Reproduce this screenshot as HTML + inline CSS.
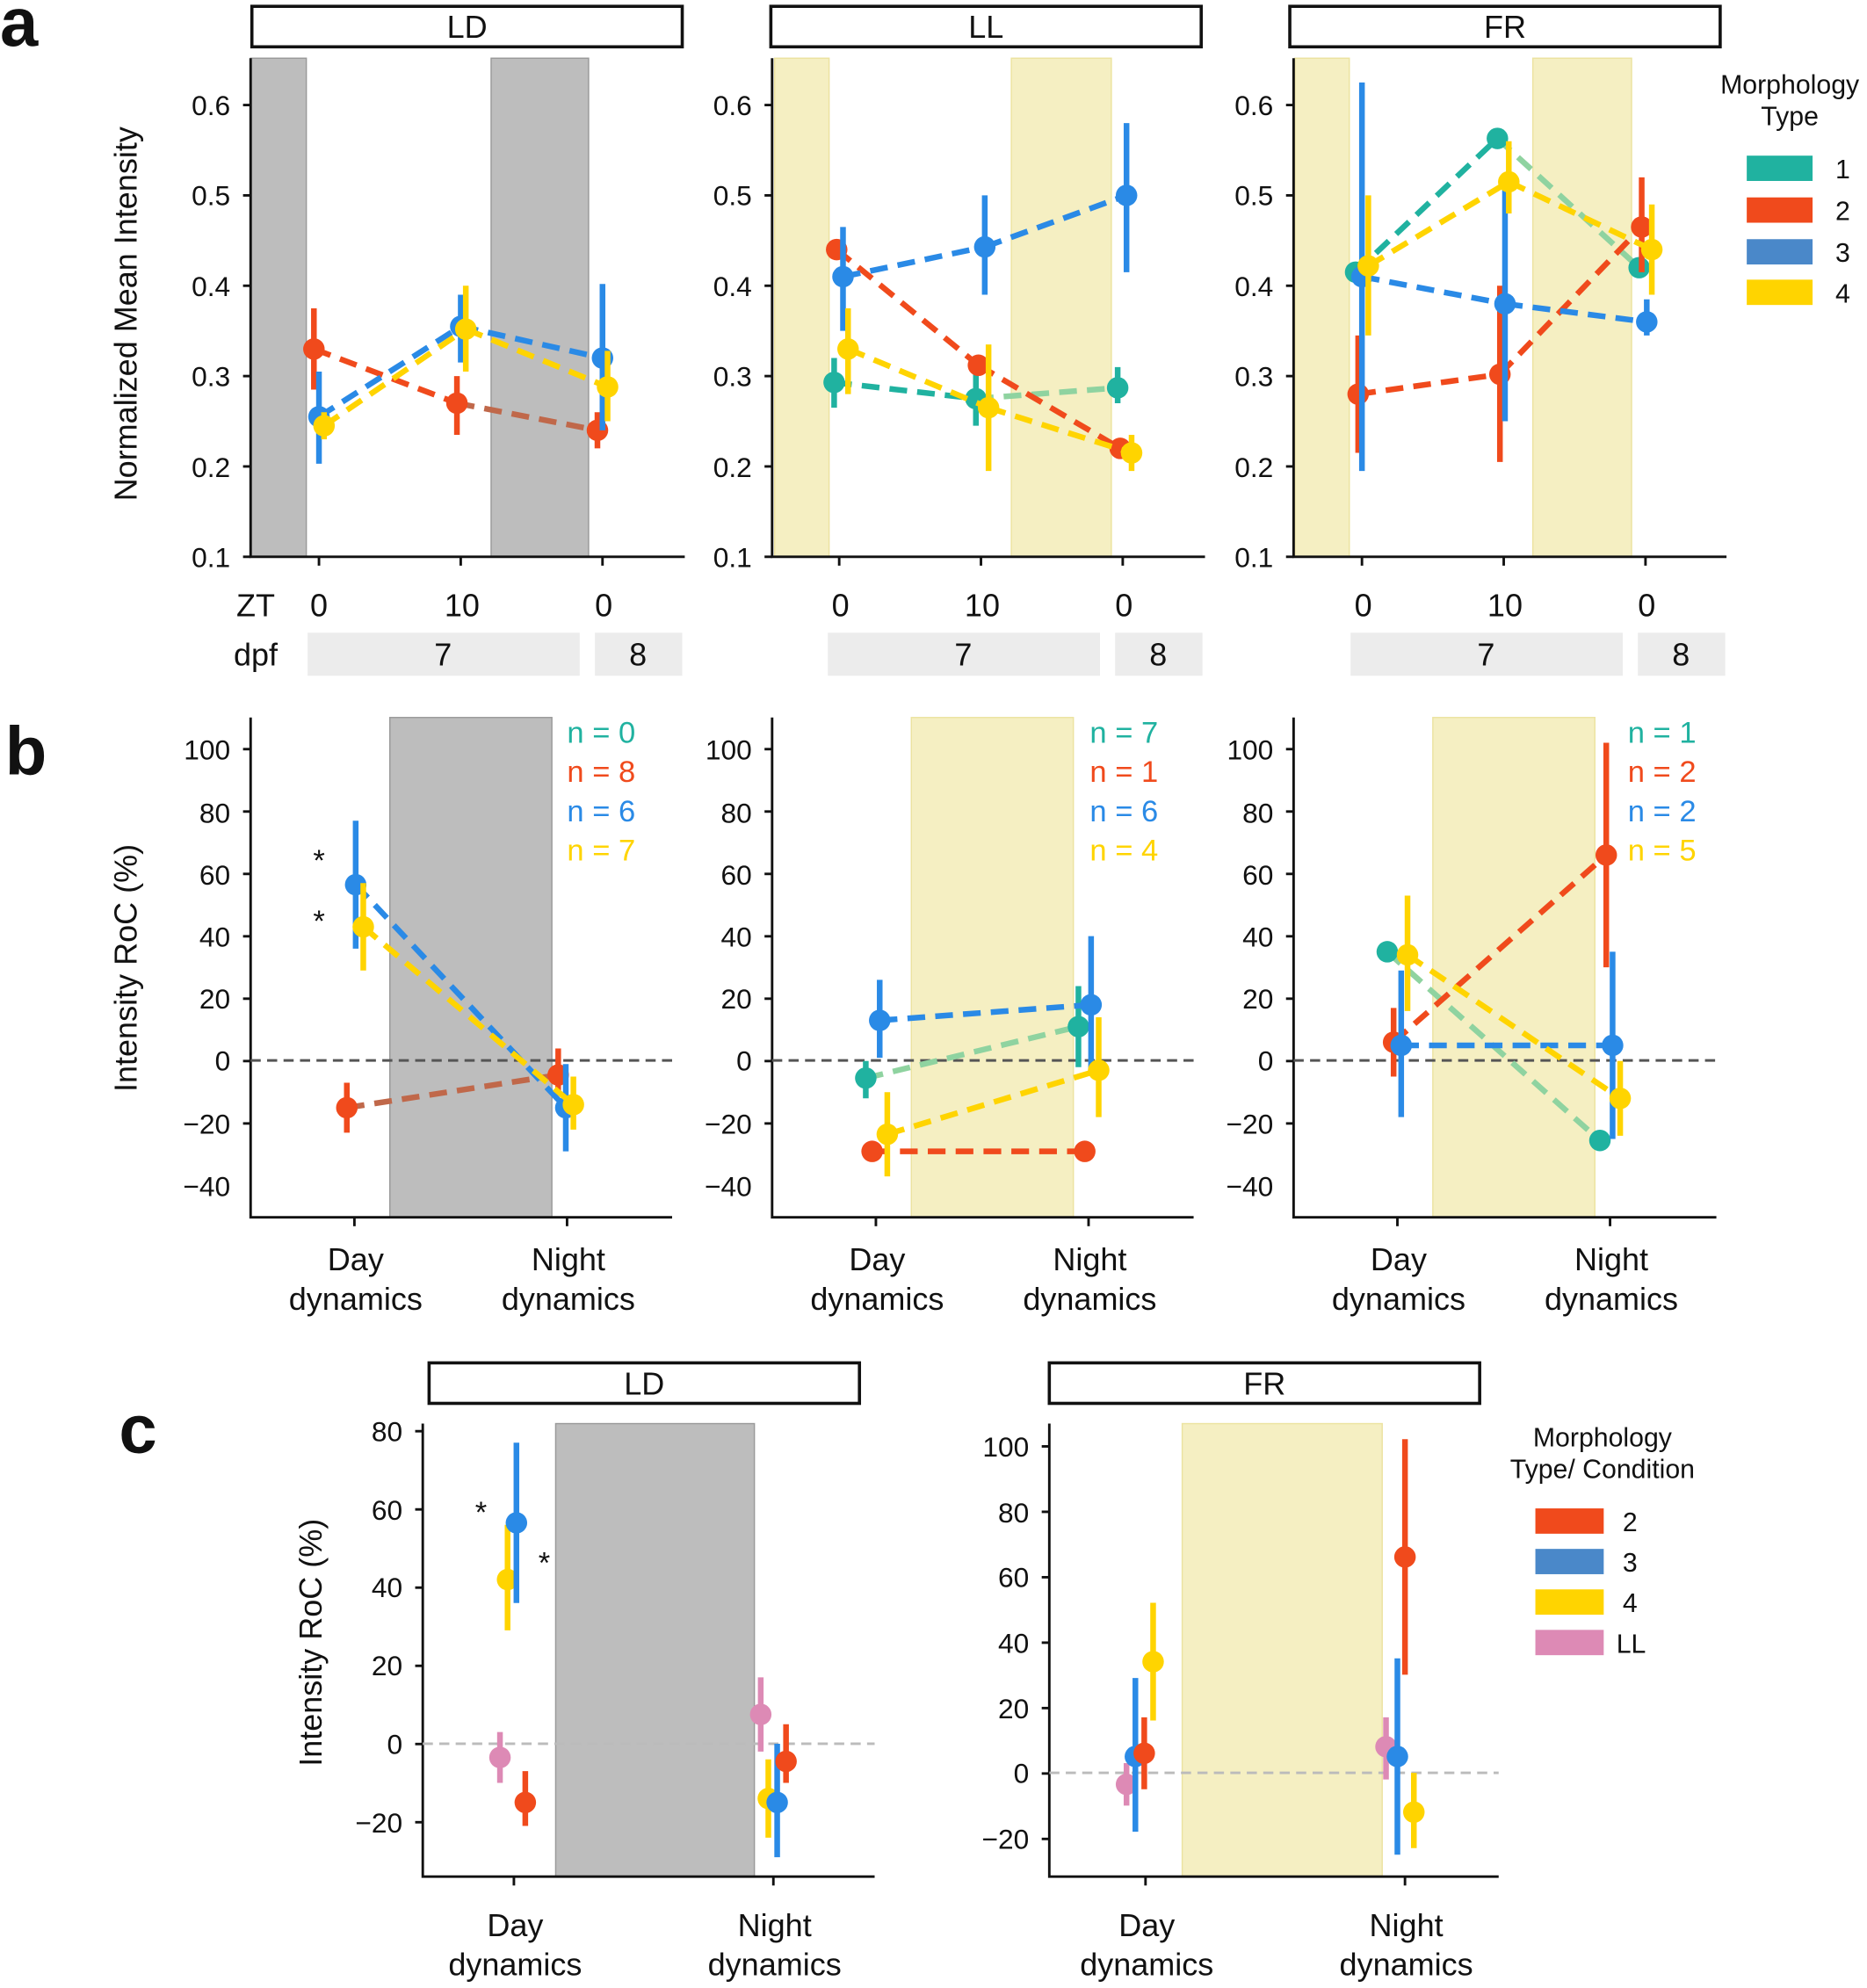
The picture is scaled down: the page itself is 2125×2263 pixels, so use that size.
<!DOCTYPE html>
<html><head><meta charset="utf-8"><style>
html,body{margin:0;padding:0;background:#fff;}
svg{display:block;}
text{font-family:"Liberation Sans",Arial,sans-serif;fill:#111;}
</style></head><body>
<svg id="s" width="2125" height="2263" viewBox="0 0 1475 1571" preserveAspectRatio="none" xmlns="http://www.w3.org/2000/svg">
<rect width="1475" height="1571" fill="#fff"/>
<text x="0" y="36" font-size="54" font-weight="bold">a</text>
<text x="4" y="612" font-size="54" font-weight="bold">b</text>
<text x="94" y="1148" font-size="54" font-weight="bold">c</text>

<rect x="198" y="46" width="44" height="394" fill="#bdbdbd" stroke="#999"/>
<rect x="388" y="46" width="77" height="394" fill="#bdbdbd" stroke="#999"/>
<rect x="612" y="46" width="43" height="394" fill="#f5efc2" stroke="#ece3a0"/>
<rect x="799" y="46" width="79" height="394" fill="#f5efc2" stroke="#ece3a0"/>
<rect x="1023" y="46" width="43" height="394" fill="#f5efc2" stroke="#ece3a0"/>
<rect x="1211" y="46" width="78" height="394" fill="#f5efc2" stroke="#ece3a0"/>
<rect x="308" y="567" width="128" height="395" fill="#bdbdbd" stroke="#999"/>
<rect x="720" y="567" width="128" height="395" fill="#f5efc2" stroke="#ece3a0"/>
<rect x="1132" y="567" width="128" height="395" fill="#f5efc2" stroke="#ece3a0"/>
<rect x="439" y="1125" width="157" height="358" fill="#bdbdbd" stroke="#999"/>
<rect x="934" y="1125" width="158" height="358" fill="#f5efc2" stroke="#ece3a0"/>

<g fill="none" stroke="#111" stroke-width="2.5">
<rect x="199" y="5" width="340" height="32"/>
<rect x="609" y="5" width="340" height="32"/>
<rect x="1019" y="5" width="340" height="32"/>
<rect x="339" y="1077" width="340" height="32"/>
<rect x="829" y="1077" width="340" height="32"/>
</g>
<g font-size="25" text-anchor="middle">
<text x="369" y="30">LD</text><text x="779" y="30">LL</text><text x="1189" y="30">FR</text>
<text x="509" y="1102">LD</text><text x="999" y="1102">FR</text>
</g>

<g stroke="#111" stroke-width="2" fill="none">
<path d="M198 46V440H541M610 46V440H952M1022 46V440H1364"/>
<path d="M198 567V962H531M610 567V962H943M1022 567V962H1356"/>
<path d="M334 1125V1483H691M829 1125V1483H1184"/>
</g>
<g id="ticks" stroke="#111" stroke-width="2"></g>

<g font-size="22" text-anchor="end">
<text x="182" y="91">0.6</text><text x="182" y="162">0.5</text><text x="182" y="234">0.4</text><text x="182" y="305">0.3</text><text x="182" y="377">0.2</text><text x="182" y="448">0.1</text>
<text x="594" y="91">0.6</text><text x="594" y="162">0.5</text><text x="594" y="234">0.4</text><text x="594" y="305">0.3</text><text x="594" y="377">0.2</text><text x="594" y="448">0.1</text>
<text x="1006" y="91">0.6</text><text x="1006" y="162">0.5</text><text x="1006" y="234">0.4</text><text x="1006" y="305">0.3</text><text x="1006" y="377">0.2</text><text x="1006" y="448">0.1</text>
</g>
<g font-size="22" text-anchor="end">
<text x="182" y="600">100</text><text x="182" y="650">80</text><text x="182" y="699">60</text><text x="182" y="748">40</text><text x="182" y="797">20</text><text x="182" y="846">0</text><text x="182" y="896">−20</text><text x="182" y="945">−40</text>
<text x="594" y="600">100</text><text x="594" y="650">80</text><text x="594" y="699">60</text><text x="594" y="748">40</text><text x="594" y="797">20</text><text x="594" y="846">0</text><text x="594" y="896">−20</text><text x="594" y="945">−40</text>
<text x="1006" y="600">100</text><text x="1006" y="650">80</text><text x="1006" y="699">60</text><text x="1006" y="748">40</text><text x="1006" y="797">20</text><text x="1006" y="846">0</text><text x="1006" y="896">−20</text><text x="1006" y="945">−40</text>
</g>
<g font-size="22" text-anchor="end">
<text x="318" y="1139">80</text><text x="318" y="1201">60</text><text x="318" y="1262">40</text><text x="318" y="1324">20</text><text x="318" y="1386">0</text><text x="318" y="1448">−20</text>
<text x="813" y="1151">100</text><text x="813" y="1203">80</text><text x="813" y="1254">60</text><text x="813" y="1306">40</text><text x="813" y="1358">20</text><text x="813" y="1409">0</text><text x="813" y="1461">−20</text>
</g>

<g font-size="25" text-anchor="middle">
<text transform="translate(108,248) rotate(-90)">Normalized Mean Intensity</text>
<text transform="translate(108,765) rotate(-90)">Intensity RoC (%)</text>
<text transform="translate(254,1298) rotate(-90)">Intensity RoC (%)</text>
</g>

<g font-size="25" text-anchor="middle">
<text x="202" y="487">ZT</text><text x="202" y="526">dpf</text>
<text x="252" y="487">0</text><text x="365" y="487">10</text><text x="477" y="487">0</text>
<text x="664" y="487">0</text><text x="776" y="487">10</text><text x="888" y="487">0</text>
<text x="1077" y="487">0</text><text x="1189" y="487">10</text><text x="1301" y="487">0</text>
</g>
<g fill="#ececec">
<rect x="243" y="500" width="215" height="34"/><rect x="470" y="500" width="69" height="34"/>
<rect x="654" y="500" width="215" height="34"/><rect x="881" y="500" width="69" height="34"/>
<rect x="1067" y="500" width="215" height="34"/><rect x="1294" y="500" width="69" height="34"/>
</g>
<g font-size="25" text-anchor="middle">
<text x="350" y="526">7</text><text x="504" y="526">8</text>
<text x="761" y="526">7</text><text x="915" y="526">8</text>
<text x="1174" y="526">7</text><text x="1328" y="526">8</text>
</g>

<g font-size="25" text-anchor="middle">
<text x="281" y="1004">Day</text><text x="281" y="1035">dynamics</text>
<text x="449" y="1004">Night</text><text x="449" y="1035">dynamics</text>
<text x="693" y="1004">Day</text><text x="693" y="1035">dynamics</text>
<text x="861" y="1004">Night</text><text x="861" y="1035">dynamics</text>
<text x="1105" y="1004">Day</text><text x="1105" y="1035">dynamics</text>
<text x="1273" y="1004">Night</text><text x="1273" y="1035">dynamics</text>
<text x="407" y="1530">Day</text><text x="407" y="1561">dynamics</text>
<text x="612" y="1530">Night</text><text x="612" y="1561">dynamics</text>
<text x="906" y="1530">Day</text><text x="906" y="1561">dynamics</text>
<text x="1111" y="1530">Night</text><text x="1111" y="1561">dynamics</text>
</g>

<g stroke-dasharray="8,5" stroke-width="2">
<path d="M198 838H531M610 838H943M1022 838H1356" stroke="#555"/>
<path d="M334 1378H691M829 1401H1184" stroke="#bbb"/>
</g>

<g id="data"></g>

<g font-size="24">
<text x="448" y="587" style="fill:#20b2a0">n = 0</text>
<text x="448" y="618" style="fill:#f04a1c">n = 8</text>
<text x="448" y="649" style="fill:#2a8ae6">n = 6</text>
<text x="448" y="680" style="fill:#ffd400">n = 7</text>
<text x="861" y="587" style="fill:#20b2a0">n = 7</text>
<text x="861" y="618" style="fill:#f04a1c">n = 1</text>
<text x="861" y="649" style="fill:#2a8ae6">n = 6</text>
<text x="861" y="680" style="fill:#ffd400">n = 4</text>
<text x="1286" y="587" style="fill:#20b2a0">n = 1</text>
<text x="1286" y="618" style="fill:#f04a1c">n = 2</text>
<text x="1286" y="649" style="fill:#2a8ae6">n = 2</text>
<text x="1286" y="680" style="fill:#ffd400">n = 5</text>
</g>
<g font-size="24" text-anchor="middle">
<text x="252" y="688">*</text><text x="252" y="736">*</text>
<text x="380" y="1203">*</text><text x="430" y="1243">*</text>
</g>

<g font-size="21" text-anchor="middle">
<text x="1414" y="74">Morphology</text><text x="1414" y="99">Type</text>
<text x="1266" y="1143">Morphology</text><text x="1266" y="1168">Type/ Condition</text>
</g>
<rect x="1380" y="123" width="52" height="20" fill="#20b2a0"/>
<rect x="1380" y="156" width="52" height="20" fill="#f04a1c"/>
<rect x="1380" y="189" width="52" height="20" fill="#4a88c9"/>
<rect x="1380" y="221" width="52" height="20" fill="#ffd400"/>
<g font-size="21"><text x="1450" y="141">1</text><text x="1450" y="174">2</text><text x="1450" y="207">3</text><text x="1450" y="239">4</text></g>
<rect x="1213" y="1192" width="54" height="20" fill="#f04a1c"/>
<rect x="1213" y="1224" width="54" height="20" fill="#4a88c9"/>
<rect x="1213" y="1256" width="54" height="20" fill="#ffd400"/>
<rect x="1213" y="1288" width="54" height="20" fill="#dd8ab5"/>
<g font-size="21"><text x="1282" y="1210">2</text><text x="1282" y="1242">3</text><text x="1282" y="1274">4</text><text x="1277" y="1306">LL</text></g>
</svg>
<script>
var NS="http://www.w3.org/2000/svg";
var T=document.getElementById('ticks'),D=document.getElementById('data');
function el(p,tag,a){var e=document.createElementNS(NS,tag);for(var k in a)e.setAttribute(k,a[k]);p.appendChild(e);return e;}
function hl(x,y){el(T,'line',{x1:x-6,y1:y,x2:x,y2:y});}
function vl(x,y){el(T,'line',{x1:x,y1:y,x2:x,y2:y+7});}
[198,610,1022].forEach(function(a){for(var i=0;i<6;i++)hl(a,83+i*71.4);for(var j=0;j<7;j++)hl(a,592+j*49.3);});
[252,364,476,663,775,887,1076,1188,1300].forEach(function(x){vl(x,440)});
[280,448,692,860,1104,1272].forEach(function(x){vl(x,962)});
for(var i=0;i<6;i++)hl(334,1131+i*61.8);for(var i=0;i<7;i++)hl(829,1143+i*51.7);
[406,611].forEach(function(x){vl(x,1483)});[905,1110].forEach(function(x){vl(x,1483)});
var C={t:"#20b2a0",o:"#f04a1c",b:"#2a8ae6",y:"#ffd400",p:"#dd8ab5"};
function ya(v){return 440-(v-0.1)*714;}
function yb(v){return 838.4-v*2.465;}
function yc1(v){return 1378-v*3.09;}
function yc2(v){return 1401-v*2.585;}
function ser(pts,col,f,lc,lines){
 if(lines!==false)for(var i=0;i<pts.length-1;i++){el(D,'line',{x1:pts[i][0],y1:f(pts[i][1]),x2:pts[i+1][0],y2:f(pts[i+1][1]),stroke:(lc&&lc[i])||col,'stroke-width':4.5,'stroke-dasharray':'14,8'});}
 pts.forEach(function(p){if(p[2]!=null)el(D,'line',{x1:p[0],y1:f(p[2]),x2:p[0],y2:f(p[3]),stroke:col,'stroke-width':4.5});el(D,'circle',{cx:p[0],cy:f(p[1]),r:8.5,fill:col});});
}
ser([[248,.33,.285,.375],[361,.27,.235,.3],[472,.24,.22,.26]],C.o,ya,[null,"#c0684a"]);
ser([[252,.255,.203,.305],[364,.355,.315,.39],[476,.32,.24,.402]],C.b,ya);
ser([[256,.245,.23,.26],[368,.352,.305,.4],[480,.288,.25,.328]],C.y,ya);
ser([[659,.293,.265,.32],[771,.275,.245,.31],[883,.287,.27,.31]],C.t,ya,[null,"#8fd3a0"]);
ser([[661,.44,null,null],[773,.312,null,null],[885,.22,null,null]],C.o,ya);
ser([[666,.41,.35,.465],[778,.443,.39,.5],[890,.5,.415,.58]],C.b,ya);
ser([[670,.33,.28,.375],[781,.265,.195,.335],[894,.215,.195,.235]],C.y,ya);
ser([[1071,.415,null,null],[1183,.563,null,null],[1295,.42,null,null]],C.t,ya,[null,"#8fd3a0"]);
ser([[1073,.28,.215,.345],[1185,.302,.205,.4],[1297,.465,.415,.52]],C.o,ya);
ser([[1076,.41,.195,.625],[1189,.38,.25,.51],[1301,.36,.345,.385]],C.b,ya);
ser([[1081,.422,.345,.5],[1192,.515,.48,.56],[1305,.44,.39,.49]],C.y,ya);
ser([[274,-15,-23,-7],[441,-4.5,-10,4]],C.o,yb,["#c0684a"]);
ser([[281,56.5,36,77],[447,-15,-29,-1]],C.b,yb);
ser([[287,43,29,57],[453,-14,-22,-5]],C.y,yb);
ser([[684,-5.5,-12,0],[852,11,-2,24]],C.t,yb,["#8fd3a0"]);
ser([[689,-29,null,null],[857,-29,null,null]],C.o,yb);
ser([[695,13,1,26],[862,18,-4,40]],C.b,yb);
ser([[701,-23.5,-37,-10],[868,-3,-18,14]],C.y,yb);
ser([[1096,35,null,null],[1264,-25.5,null,null]],C.t,yb,["#8fd3a0"]);
ser([[1101,6,-5,17],[1269,66,30,102]],C.o,yb);
ser([[1107,5,-18,29],[1274,5,-25,35]],C.b,yb);
ser([[1112,34,16,53],[1280,-12,-24,0]],C.y,yb);
[[395,-3.5,-10,3,C.p],[401,42,29,56,C.y],[408,56.5,36,77,C.b],[415,-15,-21,-7,C.o],
 [601,7.5,-2,17,C.p],[607,-14,-24,-4,C.y],[614,-15,-29,0,C.b],[621,-4.5,-10,5,C.o]].forEach(function(p){ser([p],p[4],yc1,null,false);});
[[890,-3.5,-10,3,C.p],[897,5,-18,29,C.b],[904,6,-5,17,C.o],[911,34,16,52,C.y],
 [1095,8,-2,17,C.p],[1104,5,-25,35,C.b],[1110,66,30,102,C.o],[1117,-12,-23,0,C.y]].forEach(function(p){ser([p],p[4],yc2,null,false);});
</script>
</body></html>
